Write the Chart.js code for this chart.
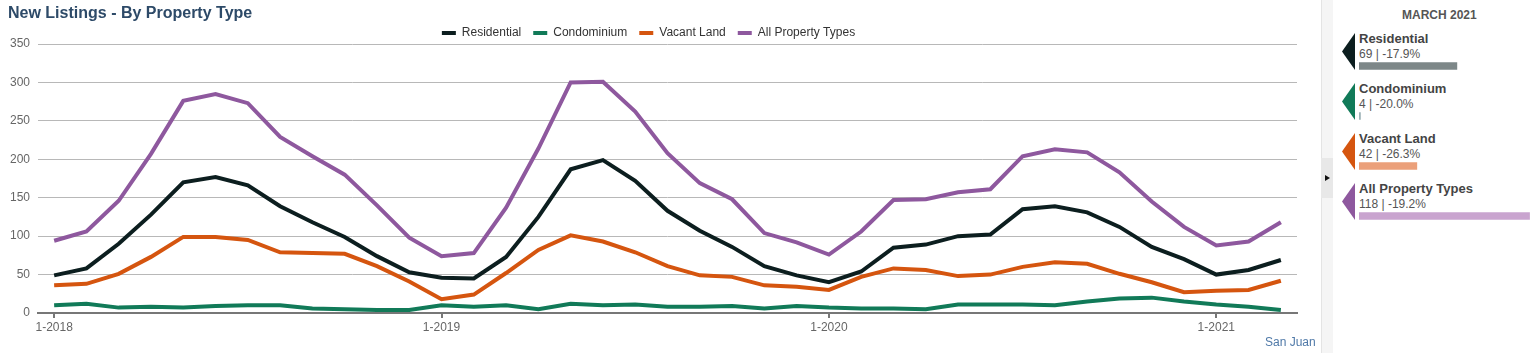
<!DOCTYPE html>
<html>
<head>
<meta charset="utf-8">
<title>New Listings - By Property Type</title>
<script src="https://cdn.jsdelivr.net/npm/chart.js@4.4.1/dist/chart.umd.min.js"></script>
<style>
  html, body { margin: 0; padding: 0; background: #fff; font-family: Arial, "Liberation Sans", sans-serif; }
  #wrap { position: relative; width: 1536px; height: 353px; overflow: hidden; }
  #main { position: absolute; left: 0; top: 0; }
  #title { position: absolute; left: 8px; top: 4px; font-size: 16px; font-weight: bold; color: #2d4a68; }
  #place { position: absolute; left: 1265px; top: 335px; font-size: 12px; color: #4f79a8; }
  #strip { position: absolute; left: 1321px; top: 0; width: 11px; height: 353px; background: #f5f5f5; border-left: 1px solid #e4e4e4; }
  #toggle { position: absolute; left: 1321px; top: 158px; width: 12px; height: 40px; background: #e8e8e8; }
  #toggle:after { content: ""; position: absolute; left: 4px; top: 17px; border-left: 5px solid #111; border-top: 3px solid transparent; border-bottom: 3px solid transparent; }
  #month { position: absolute; left: 1402px; top: 8px; font-size: 12px; font-weight: bold; color: #555; }
  .entry { position: absolute; left: 1342px; width: 190px; height: 40px; }
  .flag { position: absolute; left: 0; top: 0; width: 13px; height: 37px; clip-path: polygon(100% 0, 0 50%, 100% 100%); }
  .name { position: absolute; left: 17px; top: -2px; font-size: 13px; font-weight: bold; color: #444; white-space: nowrap; }
  .val { position: absolute; left: 17px; top: 14px; font-size: 12px; color: #555; white-space: nowrap; }
  #side { position: absolute; left: 1359px; top: 41px; }
</style>
</head>
<body>
<div id="wrap">
  <canvas id="main" width="1320" height="353"></canvas>
  <div id="title">New Listings - By Property Type</div>
  <div id="place">San Juan</div>
  <div id="strip"></div>
  <div id="toggle"></div>
  <div id="month">MARCH 2021</div>
  <div id="entries"></div>
  <canvas id="side" width="175" height="200"></canvas>
</div>
<script>
// month labels, 1-2018 .. 3-2021
const labels = [
  '1-2018','2-2018','3-2018','4-2018','5-2018','6-2018','7-2018','8-2018','9-2018','10-2018','11-2018','12-2018',
  '1-2019','2-2019','3-2019','4-2019','5-2019','6-2019','7-2019','8-2019','9-2019','10-2019','11-2019','12-2019',
  '1-2020','2-2020','3-2020','4-2020','5-2020','6-2020','7-2020','8-2020','9-2020','10-2020','11-2020','12-2020',
  '1-2021','2-2021','3-2021'
];

const residential = [49,58,90,128,170,177,166,139,118,99,74,53, 46,45,73,125,187,199,172,133,107,86,61,49, 40,54,85,89,100,102,135,139,131,112,86,70, 50,56,69];
const condominium = [10,12,7,8,7,9,10,10,6,5,4,4, 10,8,10,5,12,10,11,8,8,9,6,9, 7,6,6,5,11,11,11,10,15,19,20,15, 11,8,4];
const vacantLand  = [36,38,51,73,99,99,95,79,78,77,61,41, 18,24,52,82,101,93,79,61,49,47,36,34, 30,47,58,56,48,50,60,66,64,51,40,27, 29,30,42];
const allTypes    = [94,106,146,207,276,285,273,229,204,180,140,98, 74,78,137,214,300,301,262,208,169,148,104,92, 76,106,147,148,157,161,204,213,209,183,145,112, 88,93,118];

const yTicks = [0, 50, 100, 150, 200, 250, 300, 350];

// side panel (March 2021)
const sideNames  = ['Residential', 'Condominium', 'Vacant Land', 'All Property Types'];
const sideValues = [69, 4, 42, 118];
const sideChange = ['-17.9%', '-20.0%', '-26.3%', '-19.2%'];

const colors = ['#0c1e1f', '#117a58', '#d5550f', '#8e589e'];
const barColors = ['#7d8788', '#9fb4b8', '#eba07a', '#c9a4cf'];

Chart.defaults.font.family = 'Arial, "Liberation Sans", sans-serif';
Chart.defaults.font.size = 12;
Chart.defaults.color = '#666';

const series = [residential, condominium, vacantLand, allTypes];

const legendHeight = {
  id: 'legendHeight',
  beforeInit(chart) {
    const fit = chart.legend.fit;
    chart.legend.fit = function () {
      fit.bind(chart.legend)();
      this.height = 29;
    };
  }
};

new Chart(document.getElementById('main'), {
  type: 'line',
  data: {
    labels: labels,
    datasets: series.map((d, i) => ({
      label: sideNames[i],
      data: d,
      borderColor: colors[i],
      backgroundColor: colors[i],
      borderWidth: 4,
      pointRadius: 0,
      tension: 0,
      fill: false
    }))
  },
  options: {
    responsive: false,
    animation: false,
    layout: { padding: { top: 15, right: 23, left: 0, bottom: 0 } },
    plugins: {
      title: { display: false },
      tooltip: { enabled: false },
      legend: {
        position: 'top',
        labels: {
          boxWidth: 14,
          boxHeight: 4,
          padding: 12,
          color: '#333',
          font: { size: 12 },
          generateLabels(chart) {
            const items = Chart.defaults.plugins.legend.labels.generateLabels(chart);
            items.forEach(it => { it.lineWidth = 0; });
            return items;
          }
        }
      }
    },
    scales: {
      x: {
        offset: true,
        border: { display: true, color: '#777', width: 2 },
        grid: {
          offset: false,
          drawOnChartArea: false,
          drawTicks: true,
          tickLength: 5,
          color: ctx => (ctx.tick && labels[ctx.tick.value] && labels[ctx.tick.value].startsWith('1-')) ? '#777' : 'rgba(0,0,0,0)',
          lineWidth: 2
        },
        ticks: {
          autoSkip: false,
          maxRotation: 0,
          padding: 2,
          color: '#666',
          callback: function (v) { const l = labels[v]; return l.startsWith('1-') ? l : ''; }
        },
        afterFit(scale) { scale.height = 40; }
      },
      y: {
        min: 0,
        max: 350,
        border: { display: false },
        grid: { color: '#b8b8b8', lineWidth: 1, drawTicks: false },
        afterBuildTicks(scale) { scale.ticks = yTicks.map(v => ({ value: v })); },
        ticks: { padding: 8, color: '#666' },
        afterFit(scale) { scale.width = 38; }
      }
    }
  },
  plugins: [legendHeight]
});

// side panel entries
const entries = document.getElementById('entries');
sideNames.forEach((n, i) => {
  const e = document.createElement('div');
  e.className = 'entry';
  e.style.top = (33 + i * 50) + 'px';
  e.innerHTML = '<div class="flag" style="background:' + colors[i] + '"></div>' +
    '<div class="name">' + n + '</div>' +
    '<div class="val">' + sideValues[i] + ' | ' + sideChange[i] + '</div>';
  entries.appendChild(e);
});

new Chart(document.getElementById('side'), {
  type: 'bar',
  data: {
    labels: sideNames,
    datasets: [{ data: sideValues, backgroundColor: barColors, barThickness: 7 }]
  },
  options: {
    indexAxis: 'y',
    responsive: false,
    animation: false,
    layout: { padding: 0 },
    plugins: { legend: { display: false }, tooltip: { enabled: false } },
    scales: {
      x: { display: false, min: 3, max: 121 },
      y: { display: false }
    }
  }
});
</script>
</body>
</html>
